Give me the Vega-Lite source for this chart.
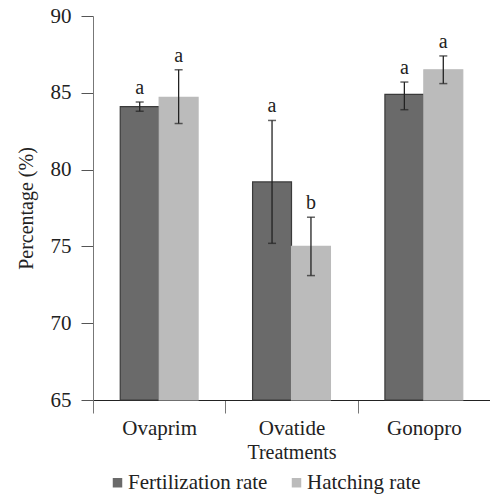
{
  "$schema": "https://vega.github.io/schema/vega-lite/v6.json",
  "width": 397,
  "height": 384,
  "autosize": {"type": "none"},
  "padding": {"left": 93, "top": 16, "right": 0, "bottom": 94},
  "background": "white",
  "config": {
    "font": "Liberation Serif",
    "view": {"stroke": null},
    "axis": {
      "labelFont": "Liberation Serif",
      "titleFont": "Liberation Serif",
      "labelColor": "#222222",
      "titleColor": "#222222",
      "titleFontWeight": "normal",
      "grid": false
    },
    "legend": {"labelFont": "Liberation Serif"},
    "text": {"font": "Liberation Serif"}
  },
  "data": {
    "values": [
      {"treatment": "Ovaprim", "series": "Fertilization rate", "value": 84.1, "lower": 83.8, "upper": 84.4, "sig": "a"},
      {"treatment": "Ovaprim", "series": "Hatching rate", "value": 84.7, "lower": 83.0, "upper": 86.5, "sig": "a"},
      {"treatment": "Ovatide", "series": "Fertilization rate", "value": 79.2, "lower": 75.2, "upper": 83.2, "sig": "a"},
      {"treatment": "Ovatide", "series": "Hatching rate", "value": 75.0, "lower": 73.1, "upper": 76.9, "sig": "b"},
      {"treatment": "Gonopro", "series": "Fertilization rate", "value": 84.9, "lower": 83.9, "upper": 85.7, "sig": "a"},
      {"treatment": "Gonopro", "series": "Hatching rate", "value": 86.5, "lower": 85.6, "upper": 87.4, "sig": "a"}
    ]
  },
  "encoding": {
    "x": {
      "field": "treatment",
      "type": "nominal",
      "sort": ["Ovaprim", "Ovatide", "Gonopro"],
      "scale": {"paddingInner": 0, "paddingOuter": 0},
      "axis": {
        "title": "Treatments",
        "titleFontSize": 20,
        "labelFontSize": 21,
        "labelFont": "Liberation Serif",
        "titleFont": "Liberation Serif",
        "labelAngle": 0,
        "tickBand": "extent",
        "domainColor": "#222222",
        "tickColor": "#777777",
        "tickSize": 13,
        "labelPadding": 4,
        "titlePadding": 4
      }
    },
    "xOffset": {
      "field": "series",
      "sort": ["Fertilization rate", "Hatching rate"],
      "scale": {"paddingInner": 0, "paddingOuter": 0.7}
    }
  },
  "layer": [
    {
      "mark": {"type": "bar", "strokeWidth": 1.2},
      "encoding": {
        "y": {
          "field": "value",
          "type": "quantitative",
          "scale": {"domain": [65, 90], "nice": false, "zero": false},
          "axis": {
            "title": "Percentage (%)",
            "titleFontSize": 20,
            "labelFontSize": 21,
            "labelFont": "Liberation Serif",
            "titleFont": "Liberation Serif",
            "values": [65, 70, 75, 80, 85, 90],
            "domainColor": "#777777",
            "tickColor": "#555555",
            "tickSize": 12,
            "labelPadding": 10,
            "titlePadding": 14
          }
        },
        "y2": {"datum": 65},
        "color": {
          "field": "series",
          "type": "nominal",
          "sort": ["Fertilization rate", "Hatching rate"],
          "scale": {"range": ["#6a6a6a", "#bbbbbb"]},
          "legend": {
            "title": null,
            "orient": "none",
            "direction": "horizontal",
            "legendX": 14,
            "legendY": 456,
            "padding": 0,
            "symbolType": "square",
            "symbolSize": 90,
            "symbolOpacity": 1,
            "symbolStrokeWidth": 0,
            "labelFontSize": 21,
            "labelFont": "Liberation Serif",
            "labelColor": "#222222",
            "labelOffset": 0,
            "columnPadding": 18
          }
        },
        "stroke": {
          "condition": {"test": "datum.series === 'Fertilization rate'", "value": "#3a3a3a"},
          "value": "#bbbbbb"
        }
      }
    },
    {
      "mark": {"type": "rule", "color": "#222222", "strokeWidth": 1.3},
      "encoding": {
        "y": {"field": "lower", "type": "quantitative"},
        "y2": {"field": "upper"}
      }
    },
    {
      "mark": {"type": "tick", "color": "#222222", "size": 8, "thickness": 1.5, "orient": "horizontal"},
      "encoding": {"y": {"field": "lower", "type": "quantitative"}}
    },
    {
      "mark": {"type": "tick", "color": "#222222", "size": 8, "thickness": 1.5, "orient": "horizontal"},
      "encoding": {"y": {"field": "upper", "type": "quantitative"}}
    },
    {
      "mark": {"type": "text", "fontSize": 20, "font": "Liberation Serif", "color": "#222222", "baseline": "bottom", "dy": -4},
      "encoding": {
        "y": {"field": "upper", "type": "quantitative"},
        "text": {"field": "sig"}
      }
    }
  ]
}
